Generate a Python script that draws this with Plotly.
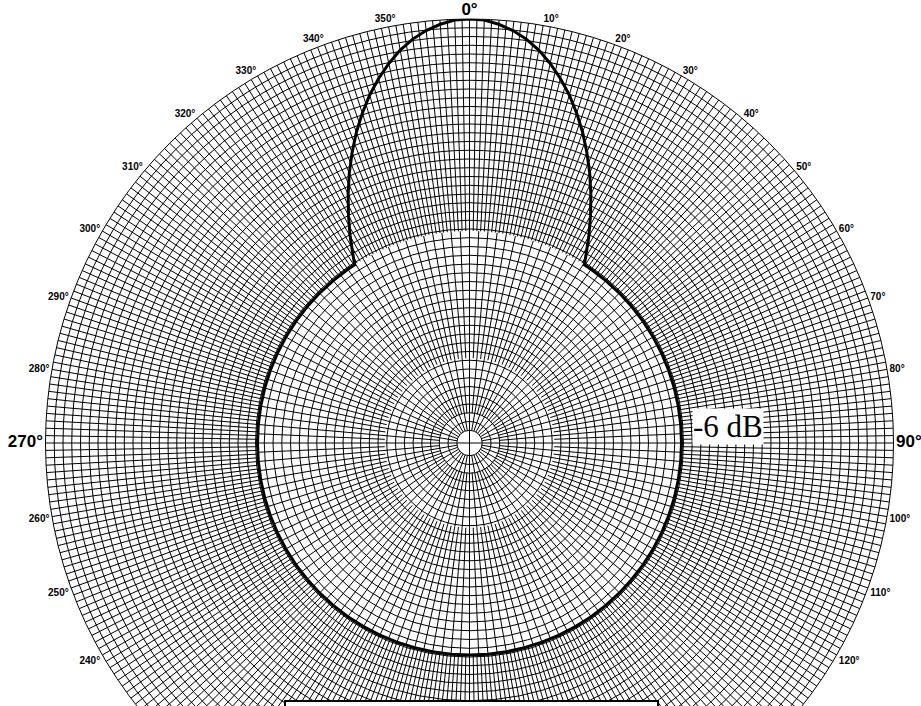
import numpy as np
import plotly.graph_objects as go

# ---- data (angle: degrees clockwise from top, r: relative amplitude) ----
pattern_theta = [0, 2, 4, 6, 8, 10, 12, 14, 16, 18, 20, 22, 24, 26, 28, 30, 32, 32.8,
                 35, 40, 45, 50, 55, 60, 65, 70, 75, 80, 85, 90, 95, 100, 105, 110,
                 115, 120, 125, 130, 135, 140, 145, 150, 155, 160, 165, 170, 175, 180,
                 185, 190, 195, 200, 205, 210, 215, 220, 225, 230, 235, 240, 245, 250,
                 255, 260, 265, 270, 275, 280, 285, 290, 295, 300, 305, 310, 315, 320, 325,
                 327.2, 328, 330, 332, 334, 336, 338, 340, 342, 344, 346, 348, 350, 352,
                 354, 356, 358, 360]
pattern_r = [1.000, 0.998, 0.990, 0.978, 0.962, 0.941, 0.915, 0.886, 0.854, 0.818, 0.780,
             0.739, 0.697, 0.653, 0.608, 0.563, 0.517, 0.500,
             0.5, 0.5, 0.5, 0.5, 0.5, 0.5, 0.5, 0.5, 0.5, 0.5, 0.5, 0.5, 0.5, 0.5, 0.5, 0.5,
             0.5, 0.5, 0.5, 0.5, 0.5, 0.5, 0.5, 0.5, 0.5, 0.5, 0.5, 0.5, 0.5, 0.5,
             0.5, 0.5, 0.5, 0.5, 0.5, 0.5, 0.5, 0.5, 0.5, 0.5, 0.5, 0.5, 0.5, 0.5,
             0.5, 0.5, 0.5, 0.5, 0.5, 0.5, 0.5, 0.5, 0.5, 0.5, 0.5, 0.5, 0.5, 0.5, 0.5,
             0.500, 0.517, 0.563, 0.608, 0.653, 0.697, 0.739, 0.780, 0.818, 0.854, 0.886,
             0.915, 0.941, 0.962, 0.978, 0.990, 0.998, 1.000]

tick_angles = [0, 10, 20, 30, 40, 50, 60, 70, 80, 90, 100, 110, 120, 130, 140, 150, 160, 170,
               180, 190, 200, 210, 220, 230, 240, 250, 260, 270, 280, 290, 300, 310, 320, 330,
               340, 350]
tick_labels = ["0°", "10°", "20°", "30°", "40°", "50°", "60°", "70°", "80°", "90°", "100°",
               "110°", "120°", "130°", "140°", "150°", "160°", "170°", "180°", "190°", "200°",
               "210°", "220°", "230°", "240°", "250°", "260°", "270°", "280°", "290°", "300°",
               "310°", "320°", "330°", "340°", "350°"]
major_labels = ["0°", "90°", "180°", "270°"]
level_label = "-6 dB"

# ---- grid styling (polar paper) ----
W, H = 921, 900
CX, CY, R = 469.5, 443.0, 424.0
grid_circles = list(np.linspace(0.03, 1.0, 48))
spoke_zones = [(90, 0.0, 0.03), (10, 0.03, 0.07), (5, 0.07, 0.2), (2.5, 0.2, 0.5), (1, 0.5, 1.0)]

fig = go.Figure()

for step, r0, r1 in spoke_zones:
    rr, tt = [], []
    for a in np.arange(0, 360, step):
        rr += [r0, r1, None]
        tt += [a, a, None]
    fig.add_trace(go.Scatterpolar(r=rr, theta=tt, mode="lines",
                                  line=dict(color="#000", width=1),
                                  hoverinfo="skip", showlegend=False))

fig.add_trace(go.Scatterpolar(r=pattern_r, theta=pattern_theta, mode="lines",
                              line=dict(color="black", width=3),
                              hoverinfo="skip", showlegend=False))

ticktext = [f'<span style="font-size:17px">{t}</span>' if t in major_labels else t
            for t in tick_labels]

fig.update_layout(
    width=W, height=H, autosize=False,
    margin=dict(l=0, r=0, t=0, b=0),
    paper_bgcolor="white",
    showlegend=False,
    polar=dict(
        domain=dict(x=[(CX - R) / W, (CX + R) / W], y=[1 - (CY + R) / H, 1 - (CY - R) / H]),
        bgcolor="white",
        radialaxis=dict(range=[0, 1], tickmode="array", tickvals=grid_circles,
                        showticklabels=False, ticks="", showline=False,
                        showgrid=True, gridcolor="#000", gridwidth=1),
        angularaxis=dict(rotation=90, direction="clockwise", tickmode="array",
                         tickvals=tick_angles, ticktext=ticktext,
                         showgrid=False, showline=True, linecolor="black", linewidth=1,
                         ticks="",
                         tickfont=dict(family="Liberation Sans, Arial", size=10,
                                       color="black", weight="bold")),
    ),
)

fig.add_annotation(text=level_label, xref="paper", yref="paper",
                   x=692 / W, y=1 - 426.5 / H, xanchor="left", yanchor="middle",
                   showarrow=False, bgcolor="white", borderpad=0,
                   font=dict(family="Liberation Serif, Times New Roman", size=31, color="black"))

fig.add_shape(type="rect", xref="paper", yref="paper",
              x0=285 / W, x1=658 / W, y0=0, y1=1 - 701 / H,
              fillcolor="white", line=dict(color="black", width=2), layer="above")

fig.write_html("out.html",
               config={"displayModeBar": False},
               post_script="document.body.style.margin='0';"
                           "document.body.style.overflow='hidden';"
                           "document.documentElement.style.overflow='hidden';")
